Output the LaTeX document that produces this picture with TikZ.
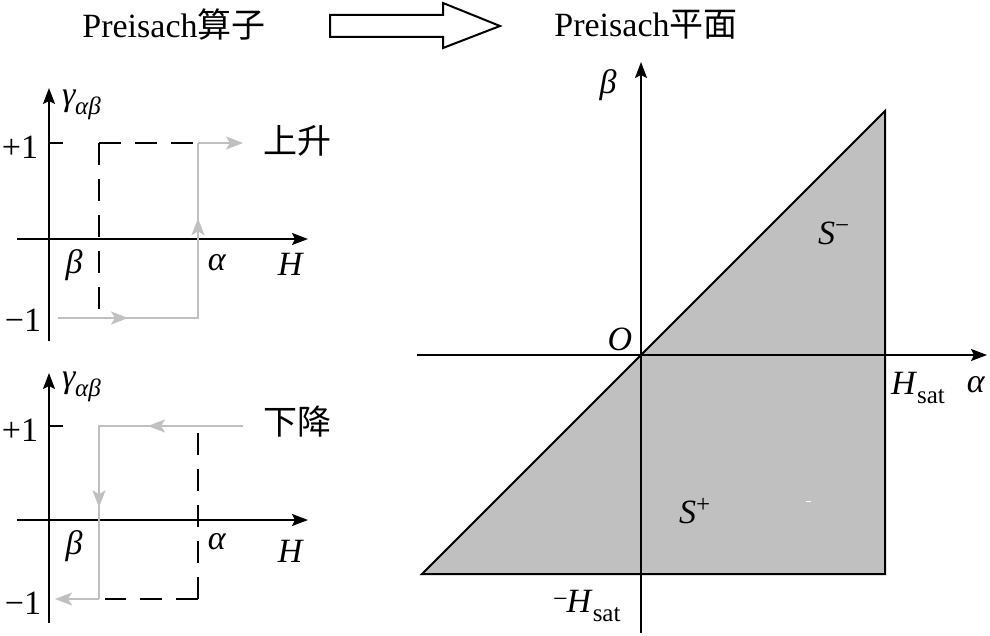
\documentclass[tikz,border=0pt]{standalone}
\usepackage{fontspec}
\setmainfont{Liberation Serif}
\newfontfamily\cjk{Noto Sans CJK SC}
\usetikzlibrary{arrows.meta,calc}
\definecolor{lgray}{RGB}{192,192,192}
\newcommand\subtxt[1]{\raisebox{-9pt}{\fontsize{25}{25}\selectfont #1}}
\newcommand\suptxt[1]{\raisebox{11pt}{\fontsize{25}{25}\selectfont #1}}
\newcommand\gab{\textit{γ}\kern-1pt\subtxt{\textit{αβ}}}
\newcommand\Hsat{\textit{H}\subtxt{sat}}
\begin{document}
\begin{tikzpicture}[x=1pt,y=-1pt,
  every node/.style={inner sep=0pt,outer sep=0pt,font=\fontsize{34}{34}\selectfont},
  axis/.style={line width=2pt,-{Stealth[length=16pt,width=12pt,inset=3pt]}},
  solidline/.style={line width=2pt},
  dashline/.style={line width=2pt,dash pattern=on 22pt off 14pt},
  gp/.style={line width=2pt,draw=lgray},
  garr/.style={gp,-{Stealth[length=17pt,width=13pt,inset=4pt,fill=lgray]}}
]
\useasboundingbox (0,0) rectangle (990,636);

% ---------- titles ----------
\node (t1) at (174,25) {Preisach{\cjk 算子}};
\node (t2) at (646,25) {Preisach{\cjk 平面}};
\draw[line width=2pt,line join=miter]
  (330,15) -- (443,15) -- (443,3) -- (500,26) -- (443,48) -- (443,37) -- (330,37) -- cycle;

% ---------- upper plot (rising) ----------
\coordinate (u0) at (49,239);
\draw[axis] (17,239) -- (308,239);
\draw[axis] (49,341) -- (49,88);
\draw[solidline] (49,143) -- (63,143);
\coordinate (uc) at (99,143);
\draw[dashline] (uc) -- (99,312);
\draw[dashline] (uc) -- (198,143);
\coordinate (a1) at (58,318);
\coordinate (a2) at (198,318);
\coordinate (a3) at (198,143);
\coordinate (a4) at (243,143);
\draw[gp] (a1) -- (a2) -- (a3);
\draw[garr] (a3) -- (a4);
\draw[garr] (a1) -- ($(a1)!0.5!(a2)$);
\draw[garr] (a2) -- ($(a2)!0.57!(a3)$);
\node[anchor=base west] (ug) at (62,106) {\gab};
\node (up1) at (20,147) {+1};
\node (um1) at (23,320) {−1};
\node (ub) at (74,265) {\textit{β}};
\node (ua) at (217,263) {\textit{α}};
\node (uH) at (291,264) {\textit{H}};
\node (us) at (297,141) {\cjk 上升};

% ---------- lower plot (falling) ----------
\draw[axis] (17,520) -- (308,520);
\draw[axis] (49,623) -- (49,373);
\draw[solidline] (49,426) -- (63,426);
\coordinate (lc) at (198,599);
\draw[dashline] (lc) -- (198,427);
\draw[dashline] (lc) -- (105,599);
\coordinate (b1) at (243,426);
\coordinate (b2) at (99,426);
\coordinate (b3) at (99,599);
\coordinate (b4) at (55,599);
\draw[gp] (b1) -- (b2) -- (b3);
\draw[garr] (b3) -- (b4);
\draw[garr] (b1) -- ($(b1)!0.66!(b2)$);
\draw[garr] (b2) -- ($(b2)!0.47!(b3)$);
\node[anchor=base west] (lg) at (62,387) {\gab};
\node (lp1) at (20,430) {+1};
\node (lm1) at (23,603) {−1};
\node (lb) at (74,546) {\textit{β}};
\node (la) at (217,542) {\textit{α}};
\node (lH) at (291,551) {\textit{H}};
\node (ls) at (297,422) {\cjk 下降};

% ---------- Preisach plane ----------
\coordinate (O) at (641,355);
\coordinate (p1) at (422,574);
\coordinate (p2) at (885,111);
\coordinate (p3) at (885,574);
\draw[solidline,fill=lgray,line join=miter] (p1) -- (p2) -- (p3) -- cycle;
\draw[axis] (417,355) -- (987,355);
\draw[axis] (641,633) -- (641,62);
\draw[white,line width=1pt] (806,501) -- (811,501);
\node (rb) at (608,85) {\textit{β}};
\node (rO) at (620,339) {\textit{O}};
\node[anchor=base west] (rH) at (891,394) {\Hsat};
\node (ra) at (976,385) {\textit{α}};
\node[anchor=base west] (rmH) at (553,612) {\raisebox{5pt}{\fontsize{26}{26}\selectfont −}\kern-1pt\Hsat};
\node[anchor=base west] (Sm) at (818,245) {\textit{S}\suptxt{−}};
\node[anchor=base west] (Sp) at (679,523) {\textit{S}\suptxt{+}};
\end{tikzpicture}
\end{document}
